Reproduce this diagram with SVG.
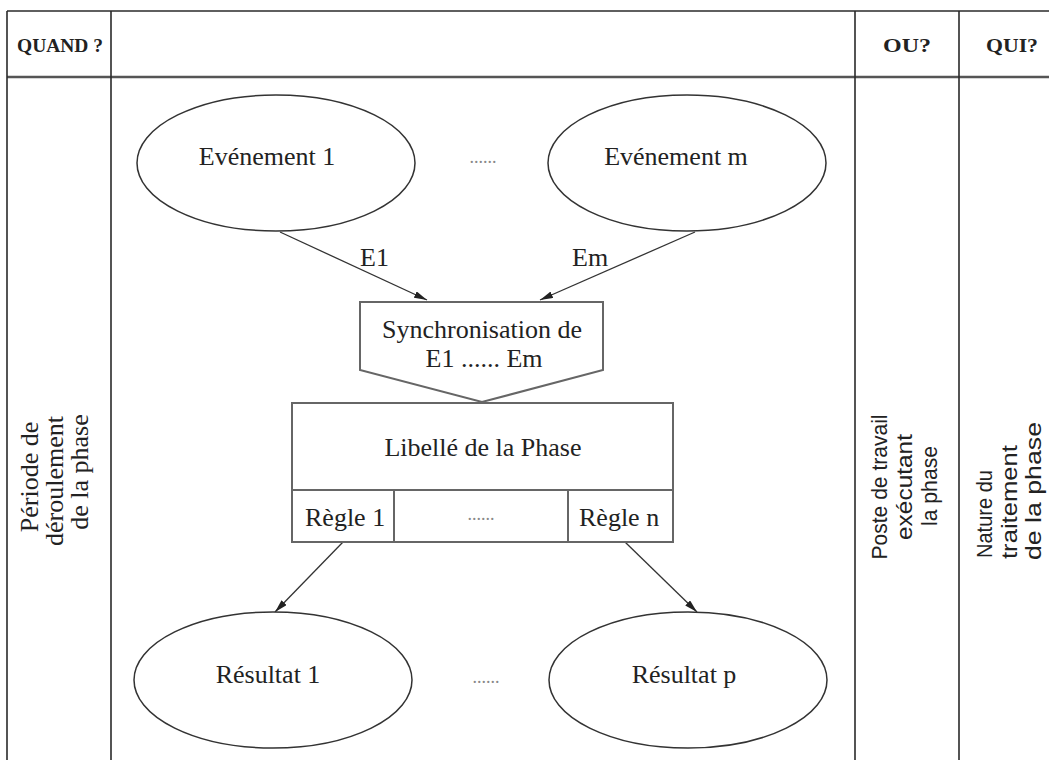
<svg xmlns="http://www.w3.org/2000/svg" width="1049" height="760" viewBox="0 0 1049 760">
  <defs>
    <marker id="arrow" markerUnits="userSpaceOnUse" markerWidth="13" markerHeight="7" refX="13" refY="3.5" orient="auto">
      <path d="M0,0 L13,3.5 L0,7 Z" fill="#222"/>
    </marker>
    <style>
      .grid { stroke: #2a2a2a; stroke-width: 1.6; fill: none; }
      .head { stroke: #555; stroke-width: 2.4; fill: none; }
      .shape { stroke: #333; stroke-width: 1.5; fill: #fff; }
      .box { stroke: #666; stroke-width: 2; fill: #fff; }
      .link { stroke: #333; stroke-width: 1.3; fill: none; marker-end: url(#arrow); }
      .t { font-family: "Liberation Serif", "Times New Roman", serif; font-size: 26px; fill: #222; }
      .c { text-anchor: middle; }
      .hd { font-family: "Liberation Serif", "Times New Roman", serif; font-size: 19px; font-weight: bold; fill: #222; }
      .side { font-family: "Liberation Sans", Arial, sans-serif; font-size: 22px; fill: #222; }
      .dots { font-family: "Liberation Serif", serif; font-size: 18px; fill: #888; text-anchor: middle; }
    </style>
  </defs>
  <rect width="1049" height="760" fill="#fff"/>

  <!-- table frame: columns QUAND / diagram / OU / QUI -->
  <g id="table">
    <line class="grid" x1="7" y1="11" x2="1049" y2="11"/>
    <line class="head" x1="7" y1="77" x2="1049" y2="77"/>
    <line class="grid" x1="7" y1="11" x2="7" y2="760"/>
    <line class="grid" x1="111" y1="11" x2="111" y2="760"/>
    <line class="grid" x1="855" y1="11" x2="855" y2="760"/>
    <line class="grid" x1="959" y1="11" x2="959" y2="760"/>
    <text class="hd" x="17" y="52" textLength="86" lengthAdjust="spacingAndGlyphs">QUAND ?</text>
    <text class="hd" x="883" y="52" textLength="48" lengthAdjust="spacingAndGlyphs">OU?</text>
    <text class="hd" x="986" y="52" textLength="52" lengthAdjust="spacingAndGlyphs">QUI?</text>
  </g>

  <!-- column texts, written bottom to top -->
  <g id="quand-text" transform="rotate(-90)">
    <text class="t c" x="-477" y="38">Période de</text>
    <text class="t c" x="-481" y="63">déroulement</text>
    <text class="t c" x="-472" y="88">de la phase</text>
  </g>
  <g id="ou-text" transform="rotate(-90)">
    <text class="side c" x="-487" y="887" textLength="145" lengthAdjust="spacingAndGlyphs">Poste de travail</text>
    <text class="side c" x="-487" y="912" textLength="106" lengthAdjust="spacingAndGlyphs">exécutant</text>
    <text class="side c" x="-486" y="937" textLength="80" lengthAdjust="spacingAndGlyphs">la phase</text>
  </g>
  <g id="qui-text" transform="rotate(-90)">
    <text class="side" x="-558" y="992" textLength="88" lengthAdjust="spacingAndGlyphs">Nature du</text>
    <text class="side" x="-559" y="1017" textLength="114" lengthAdjust="spacingAndGlyphs">traitement</text>
    <text class="side" x="-560" y="1041" textLength="138" lengthAdjust="spacingAndGlyphs">de la phase</text>
  </g>

  <!-- connectors -->
  <g id="connectors">
    <line class="link" x1="280" y1="232" x2="427" y2="300"/>
    <line class="link" x1="695" y1="232" x2="540" y2="300"/>
    <line class="link" x1="343" y1="542" x2="275" y2="612"/>
    <line class="link" x1="625" y1="542" x2="697" y2="612"/>
    <text class="t" x="360" y="266">E1</text>
    <text class="t" x="572" y="266">Em</text>
  </g>

  <g id="evenement-1">
    <ellipse class="shape" cx="276" cy="163" rx="139" ry="68"/>
    <text class="t c" x="267" y="165">Evénement 1</text>
  </g>
  <g id="evenements-dots">
    <text class="dots" x="483" y="163">......</text>
  </g>
  <g id="evenement-m">
    <ellipse class="shape" cx="687" cy="163" rx="139" ry="68"/>
    <text class="t c" x="676" y="165">Evénement m</text>
  </g>

  <g id="synchronisation">
    <path class="box" d="M360,302 L603,302 L603,370 L482,402 L360,370 Z"/>
    <text class="t c" x="482" y="338">Synchronisation de</text>
    <text class="t c" x="484" y="367">E1 ...... Em</text>
  </g>

  <g id="phase">
    <rect class="box" x="292" y="403" width="381" height="139"/>
    <line class="box" x1="292" y1="490" x2="673" y2="490"/>
    <line class="box" x1="394" y1="490" x2="394" y2="542"/>
    <line class="box" x1="568" y1="490" x2="568" y2="542"/>
    <text class="t c" x="483" y="456">Libellé de la Phase</text>
    <text class="t" x="305" y="526">Règle 1</text>
    <text class="dots" x="481" y="520">......</text>
    <text class="t" x="579" y="526">Règle n</text>
  </g>

  <g id="resultat-1">
    <ellipse class="shape" cx="273" cy="680" rx="139" ry="68"/>
    <text class="t c" x="268" y="683">Résultat 1</text>
  </g>
  <g id="resultats-dots">
    <text class="dots" x="486" y="683">......</text>
  </g>
  <g id="resultat-p">
    <ellipse class="shape" cx="688" cy="680" rx="139" ry="68"/>
    <text class="t c" x="684" y="683">Résultat p</text>
  </g>
</svg>
